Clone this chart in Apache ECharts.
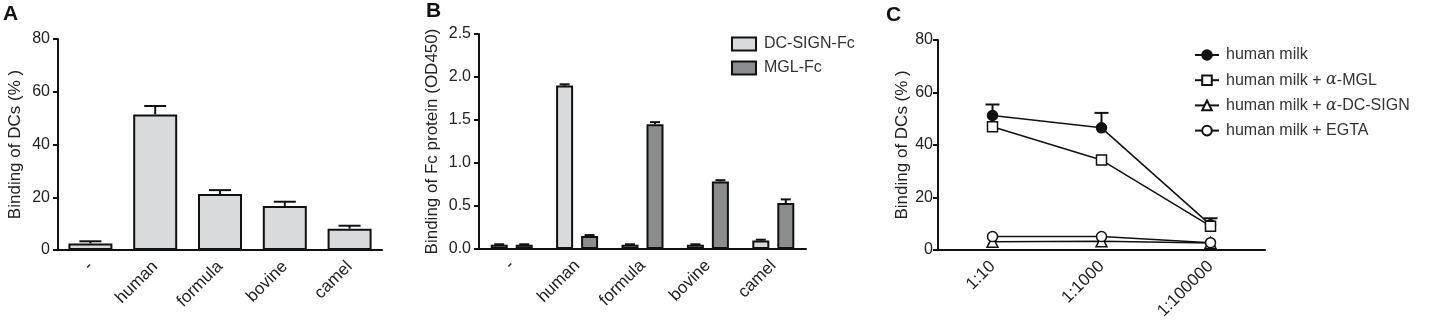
<!DOCTYPE html>
<html>
<head>
<meta charset="utf-8">
<script src="https://cdn.jsdelivr.net/npm/echarts@6/dist/echarts.min.js"></script>
<style>
  html, body { margin: 0; padding: 0; background: #fff; }
  #chart { width: 1439px; height: 322px; }
</style>
</head>
<body>
<div id="chart"></div>
<script>
// panel A: DC binding to milk samples
var milkTypes = ['-', 'human', 'formula', 'bovine', 'camel'];
var dcBinding = [2.5, 51.4, 21.2, 16.7, 8.1];
var dcBindingErr = [0.8, 3.2, 1.5, 1.6, 1.1];

// panel B: Fc protein binding (OD450)
var dcSignFc = [0.05, 1.90, 0.05, 0.05, 0.10];
var dcSignFcErr = [0.005, 0.015, 0.005, 0.005, 0.008];
var mglFc = [0.05, 0.15, 1.45, 0.785, 0.535];
var mglFcErr = [0.005, 0.012, 0.025, 0.015, 0.042];

// panel C: dilution series
var dilutions = ['1:10', '1:1000', '1:100000'];
var milk = [51.2, 46.5, 9.5];
var milkErr = [4.2, 5.7, 2.5];
var milkAntiMgl = [46.9, 34.2, 9.0];
var milkAntiMglErr = [0, 1.2, 0];
var milkAntiDcSign = [3.0, 3.2, 2.6];
var milkEgta = [5.0, 5.0, 2.7];

var font = 'Liberation Sans, Arial, sans-serif';
var ink = '#111';
var txt = '#222';

function yAxis(grid, name, gap, max, step, margin, fmt) {
  return {
    type: 'value', gridIndex: grid, min: 0, max: max, interval: step,
    name: name, nameLocation: 'middle', nameGap: gap,
    nameTextStyle: { fontFamily: font, fontSize: 17, color: txt },
    axisLine: { show: true, lineStyle: { color: ink, width: 2 } },
    axisTick: { show: true, length: 5, lineStyle: { color: ink, width: 2 } },
    axisLabel: { fontFamily: font, fontSize: 16, color: txt, margin: margin, formatter: fmt },
    splitLine: { show: false }
  };
}

function xAxis(grid, cats) {
  return {
    type: 'category', gridIndex: grid, data: cats,
    axisLine: { lineStyle: { color: ink, width: 2 } },
    axisTick: { alignWithLabel: true, length: 6, lineStyle: { color: ink, width: 2 } },
    axisLabel: { fontFamily: font, fontSize: 17, color: txt, rotate: 45, margin: 14, interval: 0 }
  };
}

// upward error bars, drawn from the value to value + err
function errBars(axis, vals, errs, offset, capW, z) {
  return {
    type: 'custom', xAxisIndex: axis, yAxisIndex: axis, z: z || 3,
    encode: { x: 0, y: 1 },
    data: vals.map(function (v, i) { return [i, v, v + errs[i]]; }),
    renderItem: function (params, api) {
      var lo = api.coord([api.value(0), api.value(1)]);
      var hi = api.coord([api.value(0), api.value(2)]);
      var x = lo[0] + offset;
      var st = { stroke: ink, lineWidth: 2 };
      return {
        type: 'group', children: [
          { type: 'line', shape: { x1: x, y1: lo[1], x2: x, y2: hi[1] }, style: st },
          { type: 'line', shape: { x1: x - capW / 2, y1: hi[1], x2: x + capW / 2, y2: hi[1] }, style: st }
        ]
      };
    }
  };
}

function lineSeries(name, data, symbol, fill) {
  return {
    name: name, type: 'line', xAxisIndex: 2, yAxisIndex: 2, data: data,
    symbol: symbol, symbolSize: symbol === 'triangle' ? 11 : 10, z: 5,
    lineStyle: { color: ink, width: 1.5 },
    itemStyle: { color: fill, borderColor: ink, borderWidth: 1.5 }
  };
}

var barW = 17, barGapPx = 8;
var half = (barW + barGapPx) / 2;

var chart = echarts.init(document.getElementById('chart'));
chart.setOption({
  animation: false,
  textStyle: { fontFamily: font },
  graphic: [
    { type: 'text', left: 3, top: 4, style: { text: 'A', font: 'bold 21px ' + font, fill: ink } },
    { type: 'text', left: 426, top: 1, style: { text: 'B', font: 'bold 21px ' + font, fill: ink } },
    { type: 'text', left: 886, top: 5, style: { text: 'C', font: 'bold 21px ' + font, fill: ink } }
  ],
  grid: [
    { left: 58, top: 39, width: 324, height: 211 },
    { left: 479, top: 34, width: 327, height: 215 },
    { left: 938, top: 40, width: 327, height: 211 }
  ],
  legend: [
    {
      data: ['DC-SIGN-Fc', 'MGL-Fc'], orient: 'vertical', left: 726, top: 31,
      icon: 'rect', itemWidth: 24, itemHeight: 13, itemGap: 8,
      textStyle: { fontFamily: font, fontSize: 16, color: '#333', lineHeight: 16, padding: [0, 0, 0, 3] }
    },
    {
      data: ['human milk', 'human milk + α-MGL', 'human milk + α-DC-SIGN', 'human milk + EGTA'],
      orient: 'vertical', left: 1189, top: 42,
      itemWidth: 24, itemHeight: 12, itemGap: 9.2,
      formatter: function (n) { return n.replace('α', '{a|α}'); },
      textStyle: {
        fontFamily: font, fontSize: 16, color: '#333', lineHeight: 16, padding: [0, 0, 0, 2],
        rich: { a: { fontFamily: 'DejaVu Serif, serif', fontStyle: 'italic', fontSize: 16, color: '#333' } }
      }
    }
  ],
  xAxis: [xAxis(0, milkTypes), xAxis(1, milkTypes), xAxis(2, dilutions)],
  yAxis: [
    yAxis(0, 'Binding of DCs (% )', 34, 80, 20, 8),
    yAxis(1, 'Binding of Fc protein (OD450)', 38, 2.5, 0.5, 8, function (v) { return v.toFixed(1); }),
    yAxis(2, 'Binding of DCs (% )', 19, 80, 20, 5)
  ],
  series: [
    {
      type: 'bar', xAxisIndex: 0, yAxisIndex: 0, data: dcBinding, barWidth: 44,
      itemStyle: { color: '#d9dadb', borderColor: ink, borderWidth: 2 }
    },
    errBars(0, dcBinding, dcBindingErr, 0, 22),
    {
      name: 'DC-SIGN-Fc', type: 'bar', xAxisIndex: 1, yAxisIndex: 1, data: dcSignFc,
      barWidth: barW, barGap: (barGapPx / barW * 100) + '%',
      itemStyle: { color: '#d9dadb', borderColor: ink, borderWidth: 2 }
    },
    {
      name: 'MGL-Fc', type: 'bar', xAxisIndex: 1, yAxisIndex: 1, data: mglFc,
      barWidth: barW,
      itemStyle: { color: '#8b8c8e', borderColor: ink, borderWidth: 2 }
    },
    errBars(1, dcSignFc, dcSignFcErr, -half, 10),
    errBars(1, mglFc, mglFcErr, half, 10),
    errBars(2, milk, milkErr, 0, 14, 2),
    errBars(2, milkAntiMgl, milkAntiMglErr, 0, 10, 2),
    lineSeries('human milk', milk, 'circle', ink),
    lineSeries('human milk + α-DC-SIGN', milkAntiDcSign, 'triangle', '#fff'),
    lineSeries('human milk + EGTA', milkEgta, 'circle', '#fff'),
    lineSeries('human milk + α-MGL', milkAntiMgl, 'rect', '#fff')
  ]
});
</script>
</body>
</html>
